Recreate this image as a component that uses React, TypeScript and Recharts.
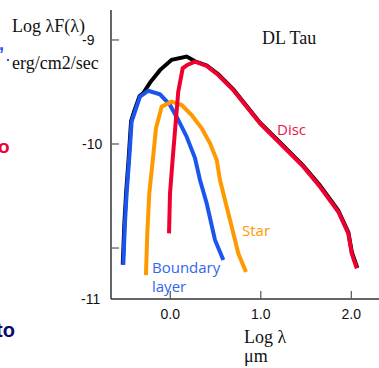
import { LineChart, Line, XAxis, YAxis } from 'recharts';

// axis values (log lambda in micron, log lambda F(lambda) in erg/cm2/sec)
const xMin = -0.655;
const xMax = 2.328;
const yMin = -11.49;
const yMax = -8.712;
const xTicks = [0, 1, 2];
const xTickLabels = ['0.0', '1.0', '2.0'];
const yTicks = [-9, -10, -11];
const yTickLabels = ['-9', '-10', ''];
const yMinLabel = '-11';

// total SED
const totalX = [-0.525, -0.507, -0.488, -0.459, -0.433, -0.396, -0.34, -0.298, -0.224, -0.114, 0.015, 0.181, 0.273, 0.402, 0.53, 0.696, 0.991, 1.212, 1.47, 1.654, 1.856, 1.967, 2.006, 2.066];
const totalY = [-11.16, -10.76, -10.47, -10.13, -9.78, -9.68, -9.54, -9.51, -9.41, -9.29, -9.19, -9.16, -9.205, -9.245, -9.33, -9.475, -9.795, -9.985, -10.21, -10.4, -10.64, -10.85, -11.04, -11.19];

// boundary layer
const blX = [-0.519, -0.501, -0.482, -0.453, -0.427, -0.39, -0.335, -0.243, -0.114, -0.003, 0.088, 0.181, 0.273, 0.328, 0.402, 0.494, 0.586];
const blY = [-11.16, -10.76, -10.47, -10.13, -9.786, -9.689, -9.545, -9.488, -9.522, -9.625, -9.769, -9.93, -10.135, -10.346, -10.57, -10.923, -11.115];

// star
const starX = [-0.269, -0.254, -0.232, -0.191, -0.158, -0.095, 0.015, 0.126, 0.236, 0.347, 0.439, 0.513, 0.549, 0.623, 0.715, 0.751, 0.836];
const starY = [-11.26, -10.859, -10.474, -10.135, -9.849, -9.641, -9.593, -9.625, -9.721, -9.849, -9.993, -10.154, -10.346, -10.603, -10.923, -11.051, -11.231];

// disc
const discX = [-0.014, -0.003, 0.027, 0.088, 0.137, 0.188, 0.273, 0.402, 0.53, 0.696, 0.991, 1.212, 1.47, 1.654, 1.856, 1.967, 2.004, 2.06];
const discY = [-10.859, -10.474, -10.135, -9.497, -9.272, -9.24, -9.209, -9.25, -9.337, -9.481, -9.801, -9.993, -10.218, -10.411, -10.651, -10.859, -11.051, -11.195];

const toPoints = (xs: number[], ys: number[]) => xs.map((x, i) => ({ x, y: ys[i] }));

const serif = '"Liberation Serif", "DejaVu Serif", serif';
const sans = '"Liberation Sans", Arial, sans-serif';
const labelFont = '"Open Sans", "DejaVu Sans", sans-serif';
const tickColor = '#555';

const BottomTick = ({ x, y, payload }: any) => {
  const i = xTicks.indexOf(payload.value);
  return (
    <g>
      <line x1={x} x2={x} y1={y} y2={y - 8} stroke={tickColor} strokeWidth={1.2} />
      <text x={x} y={y + 20} textAnchor="middle" fontFamily={sans} fontSize={14} fill="#111">
        {xTickLabels[i]}
      </text>
    </g>
  );
};

const TopTick = ({ x, y }: any) => (
  <line x1={x} x2={x} y1={y} y2={y + 8} stroke={tickColor} strokeWidth={1.2} />
);

const LeftTick = ({ x, y, payload }: any) => {
  if (payload.value === yMin) {
    return (
      <text x={x - 30} y={y + 5} fontFamily={sans} fontSize={14} fill="#111">
        {yMinLabel}
      </text>
    );
  }
  const i = yTicks.indexOf(payload.value);
  return (
    <g>
      <line x1={x} x2={x + 8} y1={y} y2={y} stroke={tickColor} strokeWidth={1.2} />
      <text x={x - 29} y={y + 5} fontFamily={sans} fontSize={14} fill="#111">
        {yTickLabels[i]}
      </text>
    </g>
  );
};

const RightTick = ({ x, y }: any) => (
  <line x1={x} x2={x - 8} y1={y} y2={y} stroke={tickColor} strokeWidth={1.2} />
);

export default function App() {
  const total = toPoints(totalX, totalY);
  const boundary = toPoints(blX, blY);
  const star = toPoints(starX, starY);
  const disc = toPoints(discX, discY);

  return (
    <div style={{ position: 'absolute', left: 0, top: 0, width: 379, height: 368, overflow: 'hidden', background: '#fff' }}>
      <LineChart width={400} height={368} margin={{ top: 10, right: 19, bottom: 0, left: 0 }}>
        <XAxis
          dataKey="x"
          type="number"
          domain={[xMin, xMax]}
          ticks={xTicks}
          allowDataOverflow
          height={69}
          tickSize={0}
          tickMargin={0}
          tick={<BottomTick />}
          axisLine={{ stroke: '#333', strokeWidth: 1.5 }}
          tickLine={false}
        />
        <XAxis
          xAxisId="top"
          orientation="top"
          dataKey="x"
          type="number"
          domain={[xMin, xMax]}
          ticks={xTicks}
          allowDataOverflow
          height={0}
          tickSize={0}
          tickMargin={0}
          tick={<TopTick />}
          axisLine={{ stroke: '#333', strokeWidth: 1.5 }}
          tickLine={false}
        />
        <YAxis
          type="number"
          domain={[yMin, yMax]}
          ticks={[...yTicks, yMin]}
          allowDataOverflow
          width={111}
          tickSize={0}
          tickMargin={0}
          tick={<LeftTick />}
          axisLine={{ stroke: '#333', strokeWidth: 1.5 }}
          tickLine={false}
        />
        <YAxis
          yAxisId="right"
          orientation="right"
          type="number"
          domain={[yMin, yMax]}
          ticks={yTicks}
          allowDataOverflow
          width={0}
          tickSize={0}
          tickMargin={0}
          tick={<RightTick />}
          axisLine={{ stroke: '#333', strokeWidth: 1.5 }}
          tickLine={false}
        />
        <Line data={total} dataKey="y" type="linear" stroke="#000" strokeWidth={4} dot={false} isAnimationActive={false} />
        <Line data={boundary} dataKey="y" type="linear" stroke="#1a55f0" strokeWidth={4} dot={false} isAnimationActive={false} />
        <Line data={star} dataKey="y" type="linear" stroke="#ff9900" strokeWidth={4} dot={false} isAnimationActive={false} />
        <Line data={disc} dataKey="y" type="linear" stroke="#f0002e" strokeWidth={4} dot={false} isAnimationActive={false} />
      </LineChart>
      <svg width={379} height={368} style={{ position: 'absolute', left: 0, top: 0, pointerEvents: 'none' }}>
        <text x={12} y={32} fontFamily={serif} fontSize={18} fill="#111">Log λF(λ)</text>
        <text x={12} y={69} fontFamily={serif} fontSize={18} fill="#111">erg/cm2/sec</text>
        <text x={262} y={44} fontFamily={serif} fontSize={18} fill="#111">DL Tau</text>
        <text x={244} y={343} fontFamily={serif} fontSize={18} fill="#111">Log λ</text>
        <text x={244} y={362} fontFamily={serif} fontSize={18} fill="#111">μm</text>
        <text x={277} y={135} fontFamily={labelFont} fontSize={15} fill="#ee1144">Disc</text>
        <text x={242} y={236} fontFamily={labelFont} fontSize={15} fill="#ff9900">Star</text>
        <text x={152} y={273} fontFamily={labelFont} fontSize={15} fill="#3366ee">Boundary</text>
        <text x={152} y={292} fontFamily={labelFont} fontSize={15} fill="#3366ee">layer</text>
        <text x={-1} y={50} fontFamily={sans} fontWeight="bold" fontSize={18} fill="#1a55f0">,</text>
        <rect x={7} y={59} width={2} height={2} fill="#1a55f0" />
        <text x={-2} y={153} fontFamily={sans} fontWeight="bold" fontSize={19} fill="#ee0033">o</text>
        <text x={-4} y={337} fontFamily={sans} fontWeight="bold" fontSize={20} fill="#0a0a6e">to</text>
      </svg>
    </div>
  );
}
